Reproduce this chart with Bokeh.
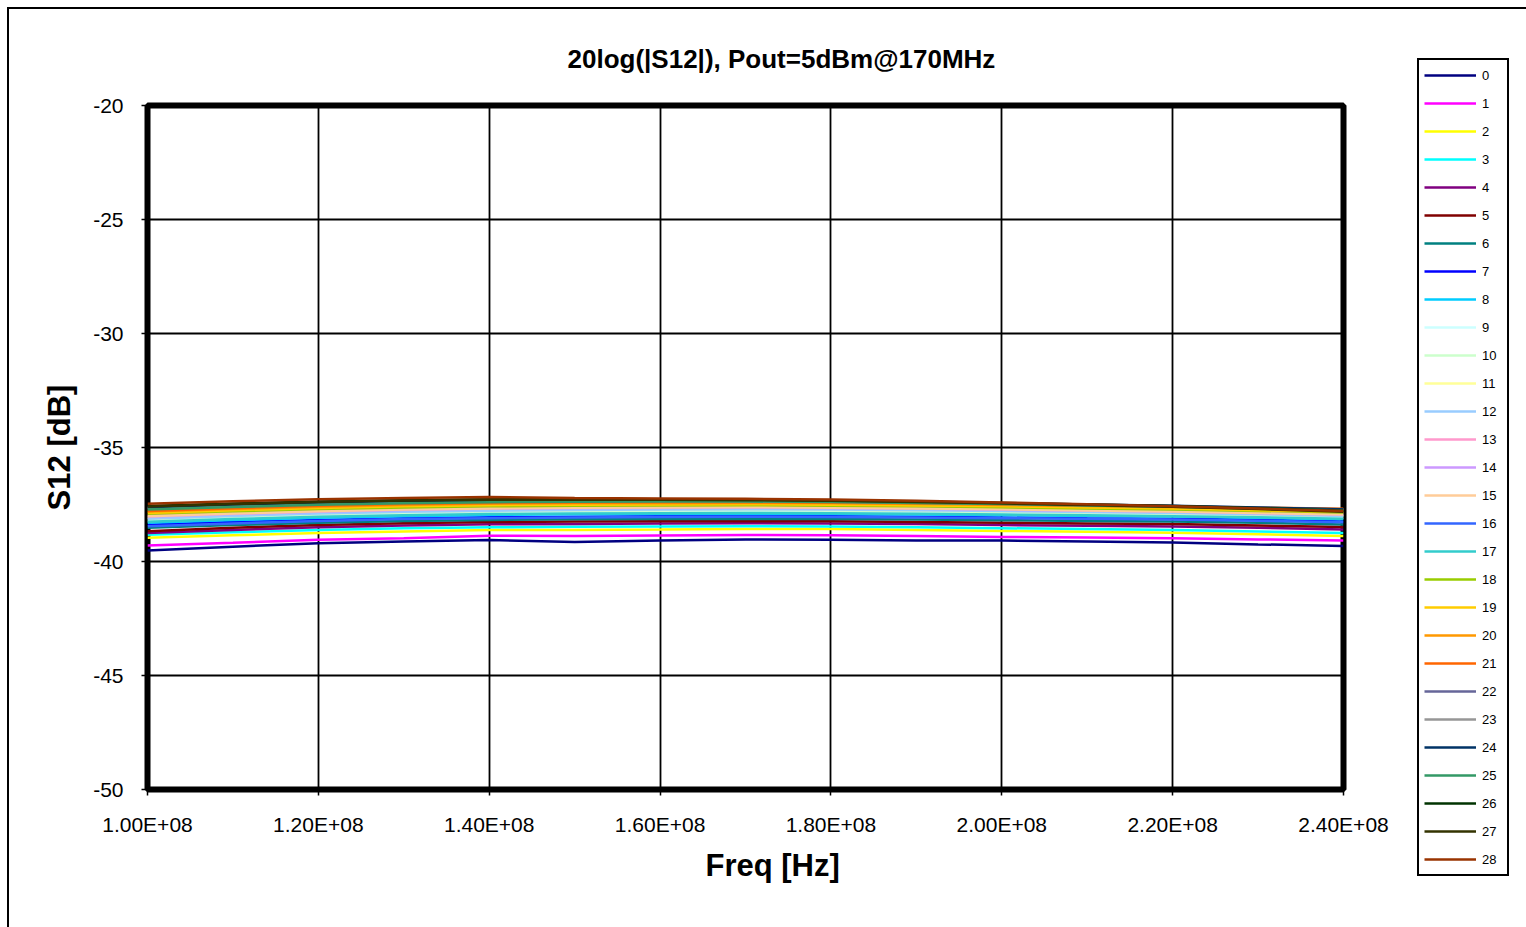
from bokeh.plotting import figure
from bokeh.models import FixedTicker, Legend, LegendItem, Title
from bokeh.layouts import row
from bokeh.embed import file_html
from bokeh.resources import INLINE

freq = [1.0e8, 1.1e8, 1.2e8, 1.3e8, 1.4e8, 1.5e8, 1.6e8, 1.7e8, 1.8e8, 1.9e8, 2.0e8, 2.1e8, 2.2e8, 2.3e8, 2.4e8]

s0 = [-39.52, -39.35, -39.20, -39.12, -39.06, -39.15, -39.08, -39.03, -39.05, -39.08, -39.08, -39.12, -39.17, -39.25, -39.32]
s1 = [-39.30, -39.18, -39.05, -38.98, -38.87, -38.88, -38.86, -38.84, -38.85, -38.88, -38.92, -38.95, -38.98, -39.03, -39.08]
s2 = [-38.96, -38.85, -38.75, -38.68, -38.62, -38.62, -38.60, -38.57, -38.58, -38.62, -38.66, -38.70, -38.74, -38.80, -38.88]
s3 = [-38.83, -38.72, -38.62, -38.54, -38.50, -38.48, -38.46, -38.45, -38.47, -38.50, -38.54, -38.58, -38.62, -38.68, -38.75]
s4 = [-38.75, -38.62, -38.50, -38.42, -38.37, -38.35, -38.33, -38.32, -38.33, -38.36, -38.40, -38.43, -38.46, -38.52, -38.60]
s5 = [-38.67, -38.52, -38.40, -38.32, -38.27, -38.25, -38.24, -38.23, -38.24, -38.27, -38.30, -38.33, -38.36, -38.42, -38.49]
s6 = [-38.52, -38.40, -38.30, -38.22, -38.18, -38.15, -38.14, -38.13, -38.14, -38.16, -38.19, -38.22, -38.25, -38.30, -38.38]
s7 = [-38.39, -38.27, -38.18, -38.10, -38.06, -38.04, -38.02, -38.01, -38.02, -38.04, -38.07, -38.10, -38.12, -38.17, -38.25]
s8 = [-38.30, -38.18, -38.08, -38.01, -37.96, -37.93, -37.92, -37.91, -37.92, -37.94, -37.97, -38.00, -38.03, -38.08, -38.15]
s9 = [-38.22, -38.10, -38.00, -37.93, -37.88, -37.85, -37.83, -37.82, -37.83, -37.86, -37.90, -37.93, -37.97, -38.02, -38.08]
s10 = [-38.15, -38.03, -37.93, -37.85, -37.80, -37.77, -37.76, -37.75, -37.76, -37.79, -37.83, -37.87, -37.91, -37.96, -38.02]
s11 = [-38.08, -37.96, -37.86, -37.78, -37.73, -37.70, -37.69, -37.68, -37.70, -37.73, -37.77, -37.81, -37.86, -37.92, -37.98]
s12 = [-38.12, -38.00, -37.90, -37.82, -37.77, -37.74, -37.72, -37.71, -37.72, -37.75, -37.79, -37.83, -37.87, -37.93, -38.00]
s13 = [-37.98, -37.87, -37.78, -37.70, -37.65, -37.62, -37.61, -37.60, -37.62, -37.65, -37.69, -37.73, -37.78, -37.84, -37.90]
s14 = [-38.04, -37.92, -37.82, -37.74, -37.69, -37.66, -37.65, -37.64, -37.66, -37.69, -37.73, -37.77, -37.82, -37.88, -37.95]
s15 = [-38.01, -37.90, -37.80, -37.72, -37.67, -37.64, -37.63, -37.62, -37.64, -37.67, -37.71, -37.76, -37.81, -37.87, -37.94]
s16 = [-38.45, -38.33, -38.22, -38.14, -38.10, -38.07, -38.05, -38.04, -38.05, -38.07, -38.10, -38.13, -38.16, -38.21, -38.28]
s17 = [-38.26, -38.14, -38.04, -37.97, -37.92, -37.89, -37.88, -37.87, -37.88, -37.91, -37.94, -37.97, -38.01, -38.06, -38.12]
s18 = [-37.91, -37.80, -37.70, -37.63, -37.58, -37.55, -37.54, -37.53, -37.55, -37.58, -37.62, -37.67, -37.72, -37.78, -37.85]
s19 = [-37.87, -37.75, -37.65, -37.58, -37.53, -37.51, -37.50, -37.49, -37.51, -37.54, -37.58, -37.63, -37.68, -37.75, -37.82]
s20 = [-37.81, -37.70, -37.60, -37.52, -37.47, -37.45, -37.44, -37.43, -37.45, -37.48, -37.52, -37.57, -37.62, -37.68, -37.72]
s21 = [-37.78, -37.66, -37.56, -37.48, -37.43, -37.41, -37.40, -37.40, -37.42, -37.45, -37.49, -37.54, -37.59, -37.64, -37.69]
s22 = [-37.64, -37.53, -37.44, -37.38, -37.34, -37.33, -37.33, -37.34, -37.37, -37.41, -37.46, -37.51, -37.57, -37.64, -37.72]
s23 = [-37.68, -37.57, -37.48, -37.41, -37.37, -37.35, -37.35, -37.36, -37.38, -37.42, -37.47, -37.52, -37.58, -37.65, -37.74]
s24 = [-37.62, -37.50, -37.41, -37.35, -37.31, -37.30, -37.30, -37.32, -37.35, -37.39, -37.44, -37.50, -37.56, -37.63, -37.71]
s25 = [-37.72, -37.61, -37.51, -37.44, -37.40, -37.38, -37.37, -37.37, -37.39, -37.43, -37.48, -37.54, -37.60, -37.67, -37.76]
s26 = [-37.57, -37.46, -37.37, -37.31, -37.27, -37.26, -37.27, -37.29, -37.32, -37.37, -37.43, -37.50, -37.57, -37.66, -37.77]
s27 = [-37.59, -37.48, -37.39, -37.33, -37.29, -37.28, -37.29, -37.31, -37.34, -37.39, -37.45, -37.52, -37.60, -37.70, -37.82]
s28 = [-37.47, -37.36, -37.27, -37.21, -37.17, -37.22, -37.24, -37.25, -37.28, -37.34, -37.41, -37.49, -37.58, -37.68, -37.78]

series = [s0, s1, s2, s3, s4, s5, s6, s7, s8, s9, s10, s11, s12, s13, s14,
          s15, s16, s17, s18, s19, s20, s21, s22, s23, s24, s25, s26, s27, s28]
names = [str(i) for i in range(29)]
colors = ["#000080", "#FF00FF", "#FFFF00", "#00FFFF", "#800080", "#800000", "#008080",
          "#0000FF", "#00CCFF", "#CCFFFF", "#CCFFCC", "#FFFF99", "#99CCFF", "#FF99CC",
          "#CC99FF", "#FFCC99", "#3366FF", "#33CCCC", "#99CC00", "#FFCC00", "#FF9900",
          "#FF6600", "#666699", "#969696", "#003366", "#339966", "#003300", "#333300",
          "#993300"]

x_ticks = [1.0e8, 1.2e8, 1.4e8, 1.6e8, 1.8e8, 2.0e8, 2.2e8, 2.4e8]
x_tick_labels = ["1.00E+08", "1.20E+08", "1.40E+08", "1.60E+08", "1.80E+08", "2.00E+08", "2.20E+08", "2.40E+08"]
y_ticks = [-50, -45, -40, -35, -30, -25, -20]
y_tick_labels = ["-50", "-45", "-40", "-35", "-30", "-25", "-20"]

title_text = "20log(|S12|), Pout=5dBm@170MHz"
x_label = "Freq [Hz]"
y_label = "S12 [dB]"

FONT = "Liberation Sans"

p = figure(width=1401, height=918, output_backend="svg", toolbar_location=None,
           x_range=(1.0e8, 2.4e8), y_range=(-50, -20),
           min_border_left=138, min_border_right=67, min_border_top=96, min_border_bottom=138)

p.background_fill_color = "white"
p.border_fill_color = "white"
p.outline_line_color = "black"
p.outline_line_width = 6

for ax in (p.xaxis[0], p.yaxis[0]):
    ax.axis_line_color = None
    ax.major_tick_line_color = "black"
    ax.major_tick_line_width = 1.5
    ax.major_tick_out = 6
    ax.major_tick_in = 0
    ax.minor_tick_line_color = None
    ax.major_label_text_font = FONT
    ax.major_label_text_font_size = "21px"
    ax.major_label_text_color = "black"
    ax.axis_label_text_font = FONT
    ax.axis_label_text_font_style = "bold"
    ax.axis_label_text_font_size = "31px"
    ax.axis_label_text_color = "black"

p.xaxis[0].ticker = FixedTicker(ticks=x_ticks)
p.xaxis[0].major_label_overrides = {t: l for t, l in zip(x_ticks, x_tick_labels)}
p.xaxis[0].major_label_standoff = 17

p.yaxis[0].ticker = FixedTicker(ticks=y_ticks)
p.yaxis[0].major_label_overrides = {t: l for t, l in zip(y_ticks, y_tick_labels)}
p.yaxis[0].major_label_standoff = 18
p.yaxis[0].axis_label = y_label
p.yaxis[0].axis_label_standoff = 13

p.xgrid.ticker = FixedTicker(ticks=x_ticks)
p.ygrid.ticker = FixedTicker(ticks=y_ticks)
for g in (p.xgrid[0], p.ygrid[0]):
    g.grid_line_color = "black"
    g.grid_line_width = 1.8

for col, ys in zip(colors, series):
    p.line(freq, ys, line_color=col, line_width=2.5)

t = Title(text=title_text, align="left", offset=420, text_font=FONT,
          text_font_style="bold", text_font_size="26px", text_color="black",
          standoff=63)
p.add_layout(t, "above")

xl = Title(text=x_label, align="left", offset=558, text_font=FONT,
           text_font_style="bold", text_font_size="31px", text_color="black",
           standoff=14)
p.add_layout(xl, "below")

# legend panel on the right (its own small figure so nothing is clipped)
p2 = figure(width=116, height=918, output_backend="svg", toolbar_location=None,
            x_range=(0, 1), y_range=(0, 1), min_border=0)
try:
    p2.frame_align = False
except Exception:
    pass
p2.axis.visible = False
p2.grid.visible = False
p2.outline_line_color = None
p2.background_fill_color = "white"
p2.border_fill_color = "white"

items = []
for name, col, ys in zip(names, colors, series):
    r = p2.line(freq, ys, line_color=col, line_width=2.4)
    items.append(LegendItem(label=name, renderers=[r]))

legend = Legend(items=items, location=(7, 51))
legend.border_line_color = "black"
legend.border_line_width = 2
legend.border_line_alpha = 1
legend.background_fill_color = "white"
legend.background_fill_alpha = 1
legend.label_text_font = FONT
legend.label_text_font_size = "13px"
legend.label_text_color = "black"
legend.glyph_width = 52
legend.glyph_height = 20
legend.label_height = 20
legend.label_width = 20
legend.label_standoff = 6
legend.spacing = 8
legend.padding = 5
legend.margin = 0
p2.add_layout(legend, "center")

layout = row(p, p2)
layout.styles = {"border-left": "2px solid black", "border-top": "2px solid black",
                 "margin-left": "7px", "margin-top": "7px"}

open("out.html", "w").write(file_html(layout, INLINE))
